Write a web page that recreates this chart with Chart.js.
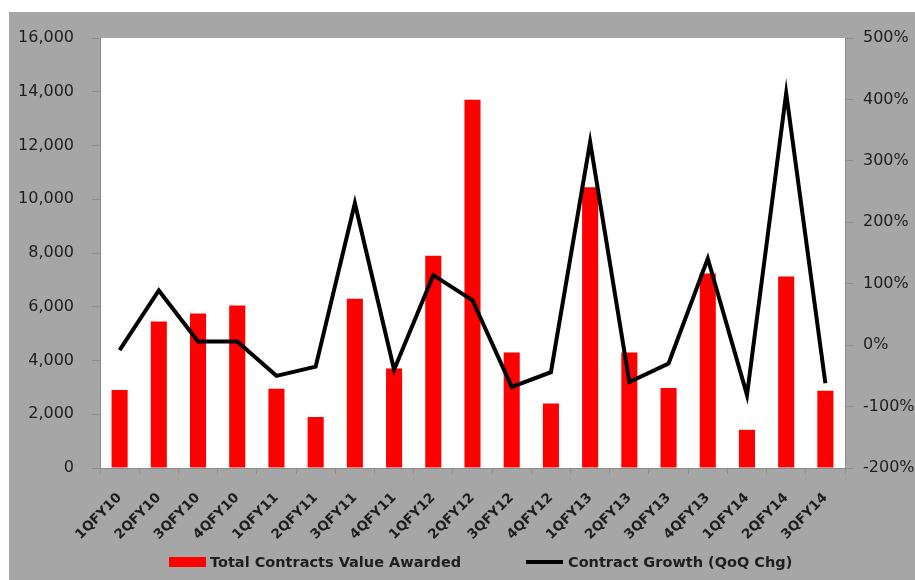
<!DOCTYPE html>
<html>
<head>
<meta charset="utf-8">
<script src="https://cdn.jsdelivr.net/npm/chart.js@4/dist/chart.umd.min.js"></script>
<style>
  html, body { margin: 0; padding: 0; background: #ffffff; }
  canvas { display: block; }
</style>
</head>
<body>
<canvas id="c" width="915" height="580"></canvas>
<script>
// Quarterly contract awards and their quarter-on-quarter change
const quarters = ['1QFY10', '2QFY10', '3QFY10', '4QFY10', '1QFY11', '2QFY11', '3QFY11', '4QFY11',
  '1QFY12', '2QFY12', '3QFY12', '4QFY12', '1QFY13', '2QFY13', '3QFY13', '4QFY13',
  '1QFY14', '2QFY14', '3QFY14'];
const contractValue = [2900, 5450, 5750, 6050, 2950, 1900, 6300, 3700, 7900, 13700, 4300, 2400,
  10450, 4300, 2980, 7240, 1420, 7130, 2870];
const qoqGrowth = [-8, 89, 6, 6, -50, -35, 231, -40, 114, 73, -68, -44, 331, -60, -30, 141, -81, 410, -62];

const valueLabel = 'Total Contracts Value Awarded';
const growthLabel = 'Contract Growth (QoQ Chg)';

const FONT = 'DejaVu Sans';
const TEXT = '#1e1e1e';
const AXIS = '#8c8c8c';

// Grey frame behind the chart and a white plot area
const backdrop = {
  id: 'backdrop',
  beforeDraw(chart) {
    const { ctx, chartArea: a, width, height } = chart;
    ctx.save();
    ctx.fillStyle = '#ffffff';
    ctx.fillRect(0, 0, width, height);
    ctx.fillStyle = '#a6a6a6';
    ctx.fillRect(9, 12, width - 9, height - 12);
    ctx.fillStyle = '#ffffff';
    ctx.fillRect(a.left, a.top, a.right - a.left, a.bottom - a.top);
    ctx.restore();
  }
};

// Legend row under the axis
const bottomLegend = {
  id: 'bottomLegend',
  afterDraw(chart) {
    const { ctx } = chart;
    const y = 562;
    ctx.save();
    ctx.font = 'bold 14.5px "' + FONT + '"';
    ctx.textBaseline = 'middle';
    ctx.fillStyle = '#ff0000';
    ctx.fillRect(169, y - 5, 37, 10);
    ctx.fillStyle = TEXT;
    ctx.fillText(chart.data.datasets[1].label, 210, y + 1);
    ctx.strokeStyle = '#000000';
    ctx.lineWidth = 4;
    ctx.beginPath();
    ctx.moveTo(526, y);
    ctx.lineTo(563, y);
    ctx.stroke();
    ctx.fillStyle = TEXT;
    ctx.fillText(chart.data.datasets[0].label, 568, y + 1);
    ctx.restore();
  }
};

new Chart(document.getElementById('c'), {
  data: {
    labels: quarters,
    datasets: [
      {
        type: 'line',
        label: growthLabel,
        data: qoqGrowth,
        yAxisID: 'y1',
        borderColor: '#000000',
        borderWidth: 4,
        pointRadius: 0,
        tension: 0,
        fill: false,
        order: 0
      },
      {
        type: 'bar',
        label: valueLabel,
        data: contractValue,
        yAxisID: 'y',
        backgroundColor: '#ff0000',
        borderWidth: 0,
        barPercentage: 0.41,
        categoryPercentage: 1.0,
        order: 1
      }
    ]
  },
  options: {
    responsive: false,
    animation: false,
    layout: { padding: { top: 38, left: 0, right: 0, bottom: 0 } },
    plugins: {
      legend: { display: false },
      tooltip: { enabled: false },
      title: { display: false }
    },
    scales: {
      x: {
        grid: { drawOnChartArea: false, drawTicks: true, tickLength: 6, color: AXIS, offset: true },
        border: { display: true, color: AXIS, width: 1 },
        ticks: {
          autoSkip: false,
          minRotation: 45,
          maxRotation: 45,
          padding: 16,
          color: TEXT,
          font: { family: FONT, size: 13.5, weight: 'bold' }
        },
        afterFit(s) { s.height = 112; }
      },
      y: {
        position: 'left',
        min: 0,
        max: 16000,
        grid: { drawOnChartArea: false, drawTicks: true, tickLength: 8, color: AXIS },
        border: { display: true, color: AXIS, width: 1 },
        ticks: {
          stepSize: 2000,
          padding: 18,
          color: TEXT,
          font: { family: FONT, size: 16 },
          callback: v => v.toLocaleString('en-US')
        },
        afterFit(s) { s.width = 100; }
      },
      y1: {
        position: 'right',
        min: -200,
        max: 500,
        grid: { drawOnChartArea: false, drawTicks: true, tickLength: 8, color: AXIS },
        border: { display: true, color: AXIS, width: 1 },
        ticks: {
          stepSize: 100,
          padding: 10,
          color: TEXT,
          font: { family: FONT, size: 16 },
          callback: v => v + '%'
        },
        afterFit(s) { s.width = 70; }
      }
    }
  },
  plugins: [backdrop, bottomLegend]
});
</script>
</body>
</html>
